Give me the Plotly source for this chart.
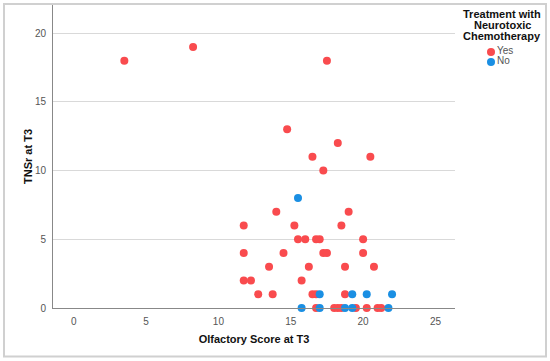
import plotly.graph_objects as go

# Olfactory score (x) and TNSr (y) at T3
yes_x = [3.5, 8.25, 17.5, 14.75, 18.25, 16.5, 20.5, 17.25, 14.0, 19.0,
         11.75, 15.25, 18.5, 15.5, 16.0, 16.75, 17.0, 20.0,
         11.75, 14.5, 17.25, 17.5, 20.0, 13.5, 16.25, 18.75, 20.75,
         11.75, 12.25, 15.75, 12.75, 13.75, 16.5, 16.75, 18.75,
         16.75, 18.0, 18.25, 18.5, 19.5, 20.25, 21.0, 21.25]
yes_y = [18, 19, 18, 13, 12, 11, 11, 10, 7, 7,
         6, 6, 6, 5, 5, 5, 5, 5,
         4, 4, 4, 4, 4, 3, 3, 3, 3,
         2, 2, 2, 1, 1, 1, 1, 1,
         0, 0, 0, 0, 0, 0, 0, 0]

no_x = [15.5, 17.0, 19.25, 20.25, 22.0, 15.75, 17.0, 18.75, 19.25, 21.75]
no_y = [8, 1, 1, 1, 1, 0, 0, 0, 0, 0]

x_ticks = [0, 5, 10, 15, 20, 25]
y_ticks = [0, 5, 10, 15, 20]

groups = ["Yes", "No"]
legend_title = ["Treatment with", "Neurotoxic", "Chemotherapy"]

RED = "#F94B4E"
BLUE = "#1A8FE3"
FONT = "Liberation Sans, Arial, sans-serif"

# pixel layout helpers
L, T, B = 53, 5, 52.5
PW = 550 - L          # paper width (r margin = 0)
PLOT_R = 455          # right end of plotting area (px)


def px_x(px):
    return (px - L) / PW


def px_y(py):
    return (361 - B - py) / (361 - B - T)


fig = go.Figure()
fig.add_trace(go.Scatter(x=yes_x, y=yes_y, mode="markers", name=groups[0],
                         marker=dict(color=RED, size=8, line=dict(width=0)),
                         cliponaxis=False, showlegend=False))
fig.add_trace(go.Scatter(x=no_x, y=no_y, mode="markers", name=groups[1],
                         marker=dict(color=BLUE, size=8, line=dict(width=0)),
                         cliponaxis=False, showlegend=False))

# legend drawn on an auxiliary pixel-scaled axis in the right area
fig.add_trace(go.Scatter(x=[491, 491], y=[52, 62], mode="markers+text",
                         text=groups, textposition="middle right",
                         textfont=dict(size=10, color="#555555", family=FONT),
                         marker=dict(color=[RED, BLUE], size=8),
                         xaxis="x2", yaxis="y2", showlegend=False,
                         hoverinfo="skip", cliponaxis=False))

fig.update_layout(
    width=550, height=361,
    margin=dict(l=L, r=0, t=T, b=B),
    paper_bgcolor="white", plot_bgcolor="white",
    font=dict(family=FONT, size=10, color="#555555"),
    showlegend=False,
    xaxis=dict(domain=[0, px_x(PLOT_R)], range=[-1.43, 26.35], tickvals=x_ticks,
               showgrid=False, zeroline=False, showline=True,
               linecolor="#888888", linewidth=1, ticks="", ticklabelstandoff=4,
               automargin=False,
               tickfont=dict(size=10, color="#555555"),
               title=dict(text="Olfactory Score at T3", standoff=9,
                          font=dict(size=11, color="#111111", family=FONT, weight="bold"))),
    yaxis=dict(range=[0, 22.05], tickvals=y_ticks, showgrid=True,
               gridcolor="#d9d9d9", gridwidth=1, zeroline=False,
               showline=True, linecolor="#888888", linewidth=1, ticks="",
               ticklabelstandoff=4, automargin=False,
               tickfont=dict(size=10, color="#555555"),
               title=dict(text="TNSr at T3", standoff=0,
                          font=dict(size=11, color="#111111", family=FONT, weight="bold"))),
    xaxis2=dict(domain=[px_x(PLOT_R), 1], range=[PLOT_R, 550], visible=False,
                fixedrange=True),
    yaxis2=dict(anchor="x2", domain=[0, 1], range=[361 - B, T], visible=False,
                fixedrange=True),
    shapes=[dict(type="rect", xref="paper", yref="paper",
                 x0=px_x(4), x1=px_x(546), y0=px_y(357), y1=px_y(4),
                 line=dict(color="#d0d0d0", width=2), layer="below")],
)

for i, t in enumerate(legend_title):
    fig.add_annotation(text="<b>" + t + "</b>", xref="x2", yref="y2",
                       x=502, y=14 + 11 * i,
                       xanchor="center", yanchor="middle", showarrow=False,
                       font=dict(size=11, color="#111111", family=FONT))

fig.write_html("out.html", config={"displayModeBar": False},
               post_script="document.body.style.margin='0px';")
